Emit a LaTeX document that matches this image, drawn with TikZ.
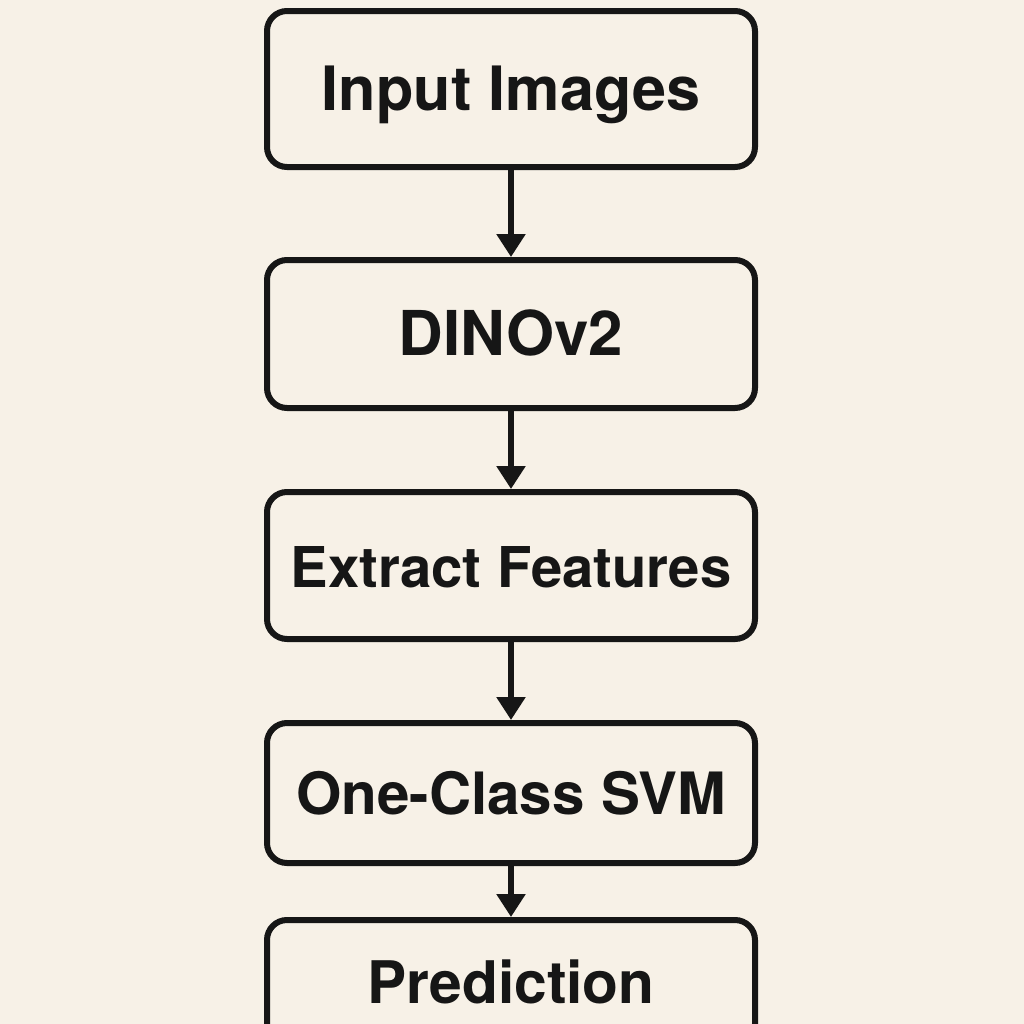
\documentclass[tikz,border=0pt]{standalone}
\usepackage{fontspec}
\setmainfont{TeX Gyre Heros}
\usepackage{tikz}
\usetikzlibrary{positioning,arrows.meta}
\tikzset{flecha/.style={draw=tinta, line width=0.55mm, -{Triangle[length=2.3mm,width=2.8mm]}}}
\newcommand{\letra}[1]{\fontsize{#1}{18}\selectfont\bfseries}
\definecolor{papel}{RGB}{247,241,231}
\definecolor{tinta}{RGB}{22,22,22}

\begin{document}
\begin{tikzpicture}[every node/.style={draw=tinta, text=tinta, line width=0.6mm, rounded corners=2mm, minimum width=48.8mm, inner sep=0pt, text height=4.3mm, text depth=0pt}]
            \fill[papel] (0,0) rectangle (10.24,-10.24);
            \useasboundingbox (0,0) rectangle (10.24,-10.24);
            \node[minimum height=15.6mm, font=\letra{17.4}] (1) at (5.11,-0.89) {Input Images};
            \node[minimum height=14.8mm, font=\letra{17.6}, below= 8.7mm of 1] (2) {DINOv2};
            \node[minimum height=14.7mm, font=\letra{16.0}, below= 7.8mm of 2] (3) {Extract Features};
            \node[minimum height=14.0mm, font=\letra{16.6}, below= 7.8mm of 3] (4) {One-Class SVM};
            \node[minimum height=12.4mm, font=\letra{16.7}, below= 5.1mm of 4] (5) {Prediction};

            \draw[flecha] (1) to (2);
            \draw[flecha] (2) to (3);
            \draw[flecha] (3) to (4);
            \draw[flecha] (4) to (5);
        \end{tikzpicture}
\end{document}
